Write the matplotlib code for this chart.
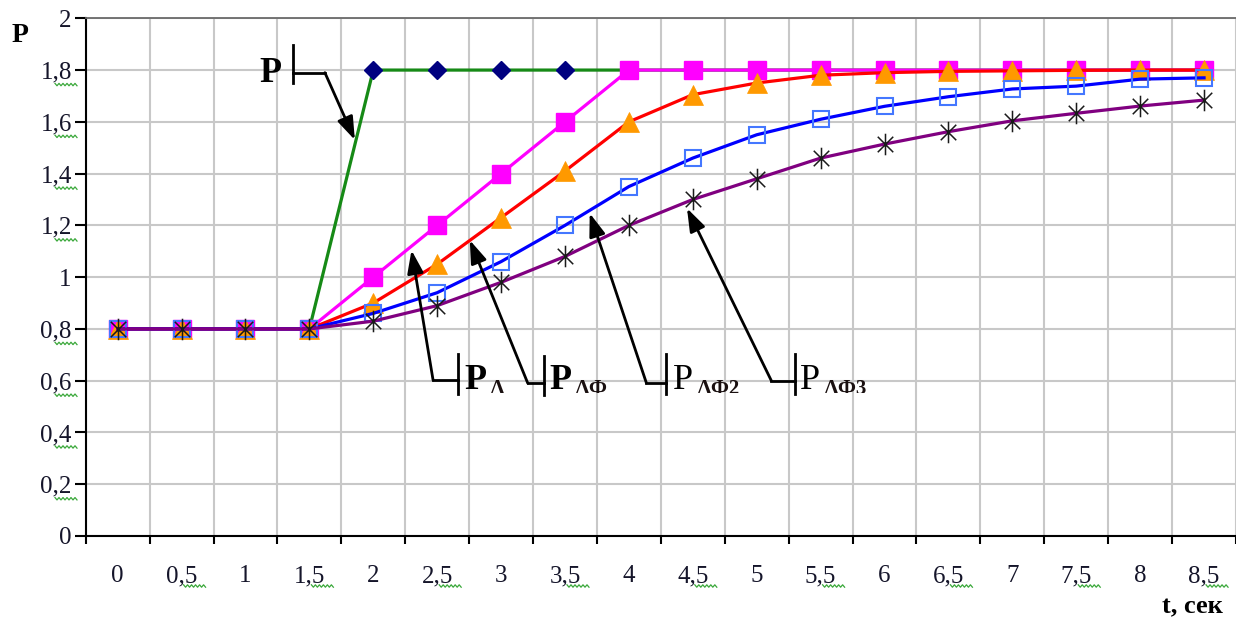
import numpy as np
import matplotlib
matplotlib.use("Agg")
import matplotlib.pyplot as plt
from matplotlib.path import Path
from matplotlib.lines import Line2D
from matplotlib.transforms import Bbox, TransformedBbox, IdentityTransform

plt.rcParams["font.family"] = ["Liberation Serif", "DejaVu Serif"]

# time axis (categories) and pressure series
t_labels = ["0", "0,5", "1", "1,5", "2", "2,5", "3", "3,5", "4", "4,5",
            "5", "5,5", "6", "6,5", "7", "7,5", "8", "8,5"]
p_step = [0.8, 0.8, 0.8, 0.8, 1.8, 1.8, 1.8, 1.8, 1.8, 1.8,
          1.8, 1.8, 1.8, 1.8, 1.8, 1.8, 1.8, 1.8]
p_l = [0.8, 0.8, 0.8, 0.8, 1.0, 1.2, 1.4, 1.6, 1.8, 1.8,
       1.8, 1.8, 1.8, 1.8, 1.8, 1.8, 1.8, 1.8]
p_lf = [0.8, 0.8, 0.8, 0.8, 0.9, 1.05, 1.23, 1.41, 1.6, 1.705,
        1.75, 1.78, 1.79, 1.795, 1.797, 1.799, 1.8, 1.8]
p_lf2 = [0.8, 0.8, 0.8, 0.8, 0.86, 0.94, 1.06, 1.2, 1.35, 1.46,
         1.55, 1.61, 1.66, 1.697, 1.727, 1.738, 1.765, 1.77]
p_lf3 = [0.8, 0.8, 0.8, 0.8, 0.83, 0.89, 0.98, 1.08, 1.2, 1.3,
         1.38, 1.46, 1.514, 1.562, 1.604, 1.633, 1.661, 1.684]
y_ticks = [0, 0.2, 0.4, 0.6, 0.8, 1.0, 1.2, 1.4, 1.6, 1.8, 2.0]
y_tick_labels = ["0", "0,2", "0,4", "0,6", "0,8", "1", "1,2", "1,4", "1,6", "1,8", "2"]

W, H = 1236, 619
fig = plt.figure(figsize=(W / 100, H / 100), dpi=100)
ax = fig.add_axes([85.7 / W, 1 - 536 / H, (W - 85.7) / W, (536 - 18.3) / H])

x = np.arange(len(t_labels))
ax.set_xlim(-0.5, len(t_labels) - 0.5)
ax.set_ylim(0, 2)

# six-armed asterisk: vertical stroke plus an X
star = Path([(0, -1), (0, 1), (-0.72, -0.72), (0.72, 0.72), (-0.72, 0.72), (0.72, -0.72)],
            [Path.MOVETO, Path.LINETO, Path.MOVETO, Path.LINETO, Path.MOVETO, Path.LINETO])

ax.plot(x, p_step, color="#168a16", lw=2.3, marker="D", ms=8.7,
        mfc="#000080", mec="#000080", zorder=3)
ax.plot(x, p_l, color="#ff00ff", lw=2.3, marker="s", ms=12.8,
        mfc="#ff00ff", mec="#ff00ff", zorder=4)
ax.plot(x, p_lf, color="#ff0000", lw=2.3, marker="^", ms=14,
        mfc="#ff9900", mec="#ff9900", mew=0.5, zorder=5)
ax.plot(x, p_lf2, color="#0000ff", lw=2.3, marker="s", ms=12,
        mfc="none", mec="#4477ff", mew=1.5, zorder=6)
ax.plot(x, p_lf3, color="#800080", lw=2.3, marker=star, ms=15.5,
        mfc="none", mec="#1a1a1a", mew=1.1, zorder=7)

# axes styling
ax.set_xticks(np.arange(-0.5, len(t_labels)), minor=False)
ax.set_xticklabels([])
ax.set_xticks(x, minor=True)
ax.set_xticklabels(t_labels, minor=True)
ax.tick_params(axis="x", which="major", length=6, width=1.5, direction="out", color="black")
ax.tick_params(axis="x", which="minor", length=0, pad=21, labelsize=18, labelcolor="#15152a")
ax.set_yticks(y_ticks)
ax.set_yticklabels(y_tick_labels)
ax.tick_params(axis="y", length=8, width=1.5, direction="out", pad=2,
               labelsize=18, labelcolor="#15152a")
ax.grid(True, which="major", color="#c8c8c8", lw=1.5, zorder=0)
ax.set_axisbelow(True)
for s in ("left", "bottom"):
    ax.spines[s].set_color("black")
    ax.spines[s].set_linewidth(1.5)
ax.spines["top"].set_color("#6a6a6a")
ax.spines["top"].set_linewidth(1.3)
ax.spines["right"].set_visible(False)

fig.text(20 / W, 1 - 41.7 / H, "P", fontsize=20, fontweight="bold", ha="center", va="baseline")
fig.text(1223 / W, 1 - 613 / H, "t, сек", fontsize=19, fontweight="bold", ha="right", va="baseline")


# line callouts: accent bar, elbow and arrow to the curve
def callout(bar_x, bar_y0, bar_y1, elbow_x, elbow_y, tip, text_x, text_base, sub, bold, clip_y):
    ax.plot([bar_x, bar_x], [bar_y0, bar_y1], color="black", lw=2, zorder=8, clip_on=False)
    ax.plot([bar_x, elbow_x], [elbow_y, elbow_y], color="black", lw=2, zorder=8, clip_on=False)
    ax.annotate("", xy=tip, xytext=(elbow_x, elbow_y),
                arrowprops=dict(arrowstyle="-|>,head_length=1.0,head_width=0.35",
                                color="black", lw=2, shrinkA=0, shrinkB=0,
                                mutation_scale=14), zorder=8)
    ax.text(text_x, text_base, "P", fontsize=26, fontweight="bold" if bold else "normal",
            ha="left", va="baseline", zorder=8)
    if sub:
        st = ax.annotate(sub, xy=(text_x, text_base), xytext=(18 if bold else 17, -3.2),
                         textcoords="offset points", fontsize=15, fontweight="bold",
                         ha="left", va="baseline", color="#1a1010", zorder=8)
        st.set_clip_box(TransformedBbox(Bbox.from_extents(-0.5, clip_y, 17.5, 2.5), ax.transData))
        st.set_clip_on(True)


callout(2.747, 1.897, 1.749, 3.243, 1.790, (3.712, 1.53), 2.21, 1.755, "", True, 0)
callout(5.327, 0.705, 0.550, 4.936, 0.602, (4.598, 1.104), 5.43, 0.566, "Λ", True, 0.552)
callout(6.668, 0.696, 0.545, 6.418, 0.590, (5.510, 1.143), 6.76, 0.566, "ΛФ", True, 0.552)
callout(8.586, 0.702, 0.548, 8.274, 0.591, (7.387, 1.247), 8.69, 0.566, "ΛФ2", False, 0.552)
callout(10.594, 0.702, 0.548, 10.229, 0.600, (8.909, 1.266), 10.68, 0.566, "ΛФ3", False, 0.552)


# spell-check style wavy underlines beneath the decimal labels
def squiggle(x0, x1, y):
    xs = np.arange(x0, x1 + 0.1, 2.0)
    ys = y + np.where(np.arange(len(xs)) % 2 == 0, 1.2, -1.2)
    fig.add_artist(Line2D(xs, ys, transform=IdentityTransform(), color="#3aa83a", lw=0.9))


fig.canvas.draw()
for v, lab in zip(y_ticks, y_tick_labels):
    if "," in lab:
        _, py = ax.transData.transform((0, v))
        squiggle(55, 77, py - 14.5)
for i, lab in enumerate(t_labels):
    if "," in lab:
        px, _ = ax.transData.transform((i, 0))
        squiggle(px + 2, px + 24, H - 586)

fig.savefig("out.png", dpi=100)
